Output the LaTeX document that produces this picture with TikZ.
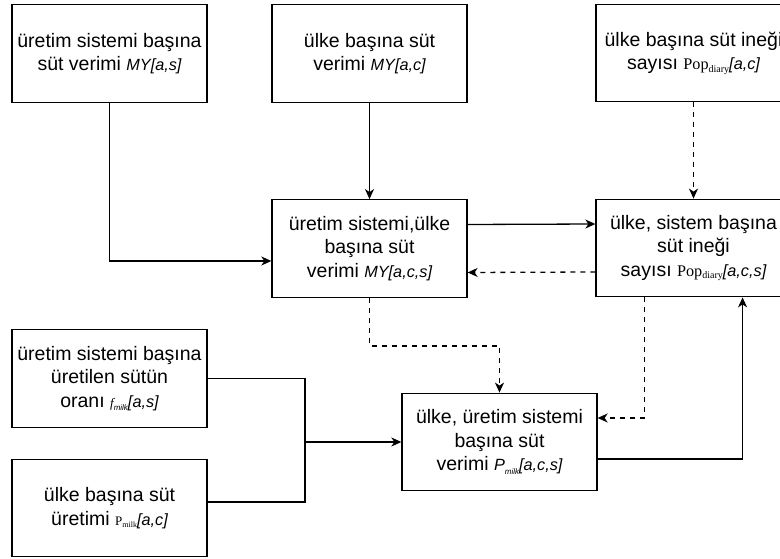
\documentclass[tikz,border=0pt]{standalone}
\usepackage{fontspec}
\setmainfont{Liberation Sans}
\newfontfamily\tmsfont{Liberation Serif}
\usetikzlibrary{arrows.meta,calc}
\newcommand{\itpart}[1]{{\fontsize{16.25}{20}\selectfont\itshape #1}}
\newcommand{\mysubs}[1]{\raisebox{-0.35ex}{\fontsize{10}{10}\selectfont #1}}
\tikzset{
  box/.style={draw=black, line width=1.3pt, fill=white, minimum width=195pt, minimum height=97.5pt,
    inner sep=0pt, align=center, font=\fontsize{19.5}{23.4}\selectfont},
  conn/.style={line width=1.3pt, -{Stealth[length=10pt,width=9pt,inset=3pt]}},
  plain/.style={line width=1.3pt},
  dsh/.style={dash pattern=on 5pt off 5pt}
}
\begin{document}
\begin{tikzpicture}[x=1pt,y=-1pt]
\useasboundingbox (0,0) rectangle (780,559);
\clip (0,0) rectangle (780,559);
\node[box] (b1) at (109.5,53.5) {üretim sistemi başına\\süt verimi \itpart{MY[a,s]}};
\node[box] (b2) at (369.5,53.5) {ülke başına süt\\verimi \itpart{MY[a,c]}};
\node[box] (b3) at (693.5,53) {ülke başına süt ineği\\sayısı {\tmsfont\fontsize{16.25}{20}\selectfont Pop\mysubs{diary}}\itpart{[a,c]}};
\node[box] (b4) at (369.5,248.5) {üretim sistemi,ülke\\başına süt\\verimi \itpart{MY[a,c,s]}};
\node[box] (b5) at (693.5,248) {ülke, sistem başına\\süt ineği\\sayısı {\tmsfont\fontsize{16.25}{20}\selectfont Pop\mysubs{diary}}\itpart{[a,c,s]}};
\node[box] (b6) at (109.5,378.5) {üretim sistemi başına\\üretilen sütün\\oranı {\tmsfont\itshape\fontsize{13}{16}\selectfont f}\mysubs{\itshape\fontsize{8}{8}\selectfont milk}\itpart{[a,s]}};
\node[box] (b7) at (109.5,508) {ülke başına süt\\üretimi {\tmsfont\fontsize{13}{16}\selectfont P\mysubs{\fontsize{8}{8}\selectfont milk}}\itpart{[a,c]}};
\node[box] (b8) at (499.5,442) {ülke, üretim sistemi\\başına süt\\verimi \itpart{P}\mysubs{\itshape\fontsize{8}{8}\selectfont milk}\itpart{[a,c,s]}};
\coordinate (j) at (305,442);
\draw[conn] (b1.south) |- ([yshift=-12.5pt]b4.west);
\draw[conn] (b2.south) -- (b4.north);
\draw[conn,dsh] (b3.south) -- (b5.north);
\draw[conn] ([yshift=24pt]b4.east) -- ([yshift=24pt]b5.west);
\draw[conn,dsh] ([yshift=-24pt]b5.west) -- ([yshift=-24pt]b4.east);
\draw[conn,dsh] (b4.south) -- ++(0,48) -| (b8.north);
\draw[conn,dsh] ($(b5.south west)!0.25!(b5.south east)$) |- ([yshift=24pt]b8.east);
\draw[conn] ([yshift=-17pt]b8.east) -| ($(b5.south west)!0.75!(b5.south east)$);
\draw[plain] (b6.east) -| (j);
\draw[plain] ([yshift=6pt]b7.east) -| (j);
\draw[conn] (j) -- (b8.west);
\end{tikzpicture}
\end{document}
